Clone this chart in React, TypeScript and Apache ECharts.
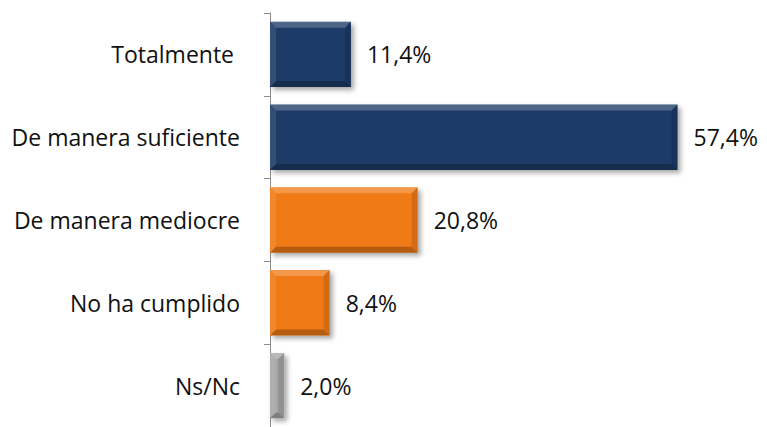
import React, { useEffect, useRef } from "react";
import * as echarts from "echarts";

const categories = ["Totalmente ", "De manera suficiente", "De manera mediocre", "No ha cumplido", "Ns/Nc"];
const values = [11.4, 57.4, 20.8, 8.4, 2.0];
const barColors = ["#1F3B66", "#1F3B66", "#F07A12", "#F07A12", "#A6A6A6"];

const fmt = (v: number) => v.toFixed(1).replace(".", ",") + "%";

export default function App() {
  const ref = useRef<HTMLDivElement>(null);
  useEffect(() => {
    const chart = echarts.init(ref.current!, null, { renderer: "svg" });
    const BAR_RATIO = 0.79;
    chart.setOption({
      animation: false,
      backgroundColor: "#ffffff",
      grid: { left: 270, top: 13, width: 503, height: 420, containLabel: false },
      xAxis: { type: "value", min: 0, max: 70, show: false },
      yAxis: {
        type: "category",
        data: categories,
        inverse: true,
        axisLine: { show: true, lineStyle: { color: "#8c8c8c", width: 1 } },
        axisTick: { show: true, length: 6, lineStyle: { color: "#8c8c8c" } },
        axisLabel: {
          margin: 30,
          fontFamily: "Open Sans",
          fontSize: 23,
          color: "#111111",
        },
      },
      series: [
        {
          type: "bar",
          barCategoryGap: "21%",
          data: values.map((v, i) => ({
            value: v,
            itemStyle: {
              color: barColors[i],
              shadowBlur: 5,
              shadowColor: "rgba(0,0,0,0.35)",
              shadowOffsetX: 3,
              shadowOffsetY: 3,
            },
          })),
          label: {
            show: true,
            position: "right",
            distance: 16,
            fontFamily: "Open Sans",
            fontSize: 23,
            color: "#111111",
            formatter: (p: any) => fmt(p.value),
          },
          z: 2,
        },
        {
          type: "custom",
          z: 3,
          silent: true,
          data: values.map((v, i) => [v, i]),
          encode: { x: 0, y: 1 },
          renderItem: (params: any, api: any) => {
            const v = api.value(0);
            const idx = api.value(1);
            const p0 = api.coord([0, idx]);
            const p1 = api.coord([v, idx]);
            const band = api.size([0, 1])[1];
            const h = band * BAR_RATIO;
            const x0 = p0[0];
            const x1 = p1[0];
            const y0 = p0[1] - h / 2;
            const y1 = p0[1] + h / 2;
            const b = Math.min(6, (x1 - x0) / 2.4);
            return {
              type: "group",
              children: [
                {
                  type: "polygon",
                  shape: { points: [[x0, y0], [x1, y0], [x1 - b, y0 + b], [x0 + b, y0 + b]] },
                  style: { fill: "rgba(255,255,255,0.22)" },
                },
                {
                  type: "polygon",
                  shape: { points: [[x0, y0], [x0 + b, y0 + b], [x0 + b, y1 - b], [x0, y1]] },
                  style: { fill: "rgba(255,255,255,0.1)" },
                },
                {
                  type: "polygon",
                  shape: { points: [[x1, y0], [x1, y1], [x1 - b, y1 - b], [x1 - b, y0 + b]] },
                  style: { fill: "rgba(0,0,0,0.12)" },
                },
                {
                  type: "polygon",
                  shape: { points: [[x0, y1], [x0 + b, y1 - b], [x1 - b, y1 - b], [x1, y1]] },
                  style: { fill: "rgba(0,0,0,0.24)" },
                },
              ],
            };
          },
        },
      ],
    });
    return () => chart.dispose();
  }, []);
  return (
    <div
      ref={ref}
      style={{ position: "fixed", left: 0, top: 0, width: 767, height: 427 }}
    />
  );
}
